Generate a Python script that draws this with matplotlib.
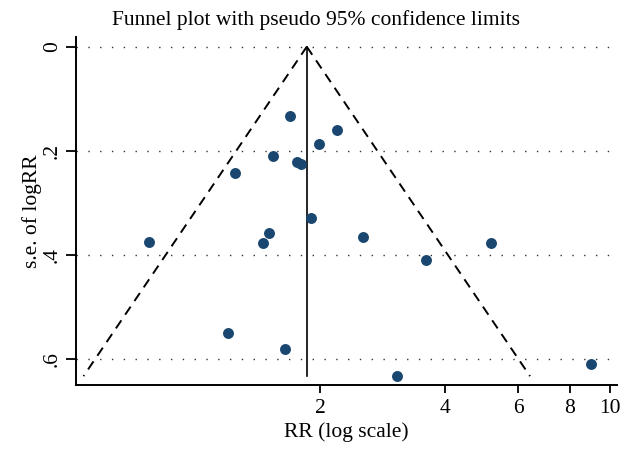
import numpy as np
import matplotlib
matplotlib.use("Agg")
import matplotlib.pyplot as plt
from matplotlib.ticker import FixedLocator, NullLocator, FixedFormatter

# study estimates
rr = [1.693, 2.202, 1.989, 1.543, 1.763, 1.797, 1.248, 1.900, 1.510,
      1.455, 2.544, 0.774, 1.202, 1.647, 3.061, 5.158, 9.015, 3.595]
se = [0.133, 0.159, 0.187, 0.210, 0.221, 0.225, 0.243, 0.329, 0.358,
      0.376, 0.365, 0.374, 0.549, 0.579, 0.632, 0.376, 0.608, 0.409]
rr_pooled = 1.858

xticks = [2, 4, 6, 8, 10]
xtick_labels = ["2", "4", "6", "8", "10"]
yticks = [0, 0.2, 0.4, 0.6]
ytick_labels = ["0", ".2", ".4", ".6"]

plt.rcParams['font.family'] = ['Liberation Serif', 'DejaVu Serif']

fig = plt.figure(figsize=(6.32, 4.53), dpi=100)
ax = fig.add_axes([76/632, 1-385/453, (617-76)/632, (385-37)/453])

# pseudo 95% confidence limits
se_max = max(se)
s = np.array([0, se_max])
lo = np.exp(np.log(rr_pooled) - 1.96*s)
hi = np.exp(np.log(rr_pooled) + 1.96*s)
ax.plot(lo, s, color='black', lw=1.4, ls=(0, (5, 3.5)))
ax.plot(hi, s, color='black', lw=1.4, ls=(0, (5, 3.5)))
ax.plot([rr_pooled, rr_pooled], [0, se_max], color='black', lw=1.2)

for y in yticks:
    ax.axhline(y, color='#333333', lw=1.0, ls=(0, (1, 7.5)), zorder=0)

ax.scatter(rr, se, s=62, color='#1a476f', zorder=3, linewidths=0)

ax.set_xscale('log')
ax.set_xlim(0.5163, 10.39)
ax.set_ylim(0.649, -0.0186)
ax.xaxis.set_major_locator(FixedLocator(xticks))
ax.xaxis.set_major_formatter(FixedFormatter(xtick_labels))
ax.xaxis.set_minor_locator(NullLocator())
ax.set_yticks(yticks)
ax.set_yticklabels(ytick_labels, rotation=90, va='center')

for sp in ['top', 'right']:
    ax.spines[sp].set_visible(False)
for sp in ['left', 'bottom']:
    ax.spines[sp].set_linewidth(1.4)
ax.tick_params(axis='x', length=6, width=1.3, labelsize=15.5, pad=4)
ax.tick_params(axis='y', length=7, width=1.3, labelsize=15.5, pad=3)

ax.set_xlabel('RR (log scale)', fontsize=15.5, labelpad=3)
ax.set_ylabel('s.e. of logRR', fontsize=15.5, labelpad=1)
fig.text(0.5, 1-20/453, 'Funnel plot with pseudo 95% confidence limits',
         fontsize=15.5, ha='center', va='center')

fig.savefig('out.png', dpi=100)
